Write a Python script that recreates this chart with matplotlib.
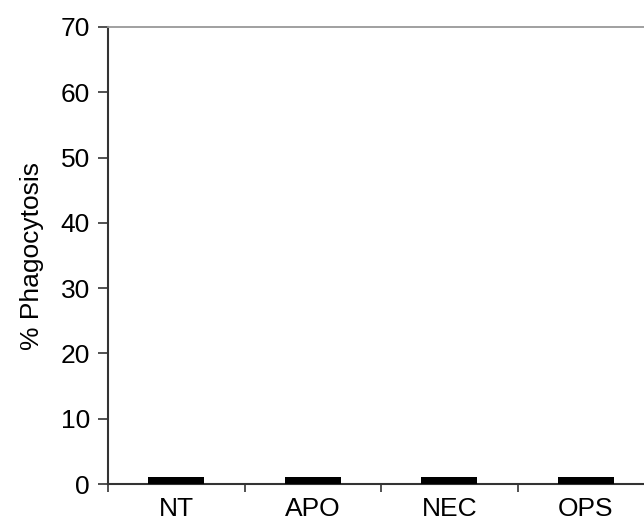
import numpy as np
import matplotlib.pyplot as plt

plt.rcParams['font.family'] = ['Liberation Sans', 'DejaVu Sans']

categories = ['NT', 'APO', 'NEC', 'OPS']
values = [1.0, 1.0, 1.0, 1.0]
yticks = [0, 10, 20, 30, 40, 50, 60, 70]

fig = plt.figure(figsize=(6.44, 5.32), dpi=100)
# axes run past the right edge of the picture, as in the original
ax = fig.add_axes([108 / 644, 48 / 532, (4 * 136.5) / 644, 457 / 532])

x = np.arange(len(categories)) + 0.5
ax.bar(x, values, width=0.41, color='black', zorder=3)

ax.set_xlim(0, 4)
ax.set_ylim(0, 70)
ax.set_yticks(yticks)
ax.set_xticks(x)
ax.set_xticklabels(categories, fontsize=19)
ax.set_xticks(np.arange(0, len(categories)), minor=True)
ax.tick_params(axis='x', which='major', length=0, pad=9)
ax.tick_params(axis='x', which='minor', length=6, width=1.2, direction='out', color='#333333')
ax.tick_params(axis='y', length=7, width=1.2, direction='out', labelsize=19, color='#333333', pad=6)
ax.set_ylabel('% Phagocytosis', fontsize=19, labelpad=12)

ax.spines['left'].set_color('#333333')
ax.spines['left'].set_linewidth(1.5)
ax.spines['bottom'].set_color('#333333')
ax.spines['bottom'].set_linewidth(1.5)
ax.spines['top'].set_color('#999999')
ax.spines['top'].set_linewidth(1.3)
ax.spines['right'].set_visible(False)

fig.savefig('out.png', dpi=100)
